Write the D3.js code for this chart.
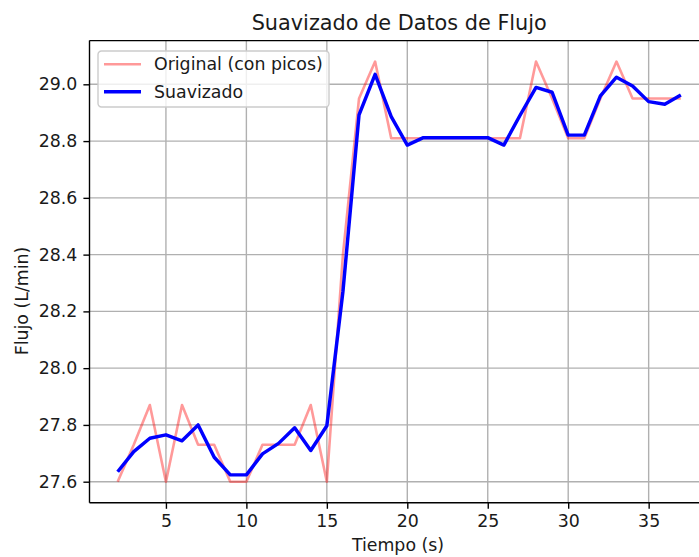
<!DOCTYPE html>
<html>
<head>
<meta charset="utf-8">
<script src="https://cdn.jsdelivr.net/npm/d3@7"></script>
<style>
  body { margin: 0; background: #fff; }
  text { font-family: "DejaVu Sans", sans-serif; fill: #1a1a1a; }
</style>
</head>
<body>
<div id="chart"></div>
<script>
// Datos
const tiempo = [2, 3, 4, 5, 6, 7, 8, 9, 10, 11, 12, 13, 14, 15, 16, 17, 18, 19,
                20, 21, 22, 23, 24, 25, 26, 27, 28, 29, 30, 31, 32, 33, 34, 35, 36, 37];
const original = [27.6, 27.73, 27.87, 27.6, 27.87, 27.73, 27.73, 27.6, 27.6, 27.73, 27.73, 27.73, 27.87, 27.6,
                  28.4, 28.95, 29.08, 28.81, 28.81, 28.81, 28.81, 28.81, 28.81, 28.81, 28.81, 28.81,
                  29.08, 28.95, 28.81, 28.81, 28.95, 29.08, 28.95, 28.95, 28.95, 28.95];
const suavizado = [27.635, 27.706, 27.753, 27.765, 27.744, 27.80, 27.686, 27.624, 27.624, 27.698, 27.735, 27.79, 27.71, 27.797,
                   28.27, 28.892, 29.035, 28.886, 28.786, 28.812, 28.812, 28.812, 28.812, 28.812, 28.786, 28.89,
                   28.989, 28.972, 28.821, 28.821, 28.959, 29.025, 28.994, 28.939, 28.93, 28.962];
const xTicks = [5, 10, 15, 20, 25, 30, 35];
const yTicks = [27.6, 27.8, 28.0, 28.2, 28.4, 28.6, 28.8, 29.0];

const width = 699, height = 557;
const margin = { top: 40.6, right: -10, bottom: 54.3, left: 89.5 };
const w = width - margin.left - margin.right;
const h = height - margin.top - margin.bottom;

const svg = d3.select("#chart").append("svg")
    .attr("width", width).attr("height", height);
svg.append("rect").attr("width", width).attr("height", height).attr("fill", "#fff");

const g = svg.append("g").attr("transform", `translate(${margin.left},${margin.top})`);

// Escalas con margen del 5% como matplotlib
const xExt = d3.extent(tiempo);
const xPad = (xExt[1] - xExt[0]) * 0.05;
const x = d3.scaleLinear().domain([xExt[0] - xPad, xExt[1] + xPad]).range([0, w]);
const yExt = d3.extent(original.concat(suavizado));
const yPad = (yExt[1] - yExt[0]) * 0.05;
const y = d3.scaleLinear().domain([yExt[0] - yPad, yExt[1] + yPad]).range([h, 0]);

// Rejilla
g.append("g").selectAll("line").data(xTicks).join("line")
    .attr("x1", d => x(d)).attr("x2", d => x(d)).attr("y1", 0).attr("y2", h)
    .attr("stroke", "#b0b0b0").attr("stroke-width", 1.39);
g.append("g").selectAll("line").data(yTicks).join("line")
    .attr("y1", d => y(d)).attr("y2", d => y(d)).attr("x1", 0).attr("x2", w)
    .attr("stroke", "#b0b0b0").attr("stroke-width", 1.39);

// Líneas
const pts = tiempo.map((t, i) => ({ t, o: original[i], s: suavizado[i] }));
g.append("path").datum(pts)
    .attr("d", d3.line().x(d => x(d.t)).y(d => y(d.o)))
    .attr("fill", "none").attr("stroke", "red").attr("stroke-opacity", 0.4)
    .attr("stroke-width", 2.6).attr("stroke-linejoin", "round");
g.append("path").datum(pts)
    .attr("d", d3.line().x(d => x(d.t)).y(d => y(d.s)))
    .attr("fill", "none").attr("stroke", "blue")
    .attr("stroke-width", 3.47).attr("stroke-linejoin", "round");

// Ejes
const xAxis = g.append("g").attr("transform", `translate(0,${h})`)
    .call(d3.axisBottom(x).tickValues(xTicks).tickFormat(d3.format("d")).tickSize(6.1).tickPadding(6.1));
const yAxis = g.append("g")
    .call(d3.axisLeft(y).tickValues(yTicks).tickFormat(d3.format(".1f")).tickSize(6.1).tickPadding(6.1));
[xAxis, yAxis].forEach(a => {
  a.select(".domain").remove();
  a.selectAll(".tick line").attr("stroke", "#000").attr("stroke-width", 1.39);
  a.selectAll(".tick text").attr("font-size", 17.36).attr("fill", "#1a1a1a")
    .style("font-family", "DejaVu Sans, sans-serif");
});

// Bordes
g.append("line").attr("x1", 0).attr("x2", 0).attr("y1", 0).attr("y2", h)
    .attr("stroke", "#000").attr("stroke-width", 1.39);
g.append("line").attr("x1", 0).attr("x2", w).attr("y1", h).attr("y2", h)
    .attr("stroke", "#000").attr("stroke-width", 1.39);
g.append("line").attr("x1", 0).attr("x2", w).attr("y1", 0).attr("y2", 0)
    .attr("stroke", "#000").attr("stroke-width", 1.39);
g.append("line").attr("x1", w).attr("x2", w).attr("y1", 0).attr("y2", h)
    .attr("stroke", "#000").attr("stroke-width", 1.39);

// Títulos
svg.append("text").attr("x", margin.left + w / 2).attr("y", 30)
    .attr("text-anchor", "middle").attr("font-size", 20.8)
    .text("Suavizado de Datos de Flujo");
svg.append("text").attr("x", 398).attr("y", 551)
    .attr("text-anchor", "middle").attr("font-size", 17.36)
    .text("Tiempo (s)");
svg.append("text").attr("transform", "translate(28,301) rotate(-90)")
    .attr("text-anchor", "middle").attr("font-size", 17.36)
    .text("Flujo (L/min)");

// Leyenda
const legend = svg.append("g").attr("transform", "translate(98,51)");
legend.append("rect").attr("width", 231).attr("height", 56).attr("rx", 3.5)
    .attr("fill", "#fff").attr("fill-opacity", 0.8)
    .attr("stroke", "#cccccc").attr("stroke-width", 1.39);
const items = [
  { label: "Original (con picos)", color: "red", op: 0.4, sw: 2.6 },
  { label: "Suavizado", color: "blue", op: 1, sw: 3.47 }
];
items.forEach((it, i) => {
  const cy = 13.3 + i * 27.4;
  legend.append("line").attr("x1", 6).attr("x2", 43).attr("y1", cy).attr("y2", cy)
      .attr("stroke", it.color).attr("stroke-opacity", it.op).attr("stroke-width", it.sw);
  legend.append("text").attr("x", 56).attr("y", cy).attr("dy", "0.35em")
      .attr("font-size", 17.36).text(it.label);
});
</script>
</body>
</html>
